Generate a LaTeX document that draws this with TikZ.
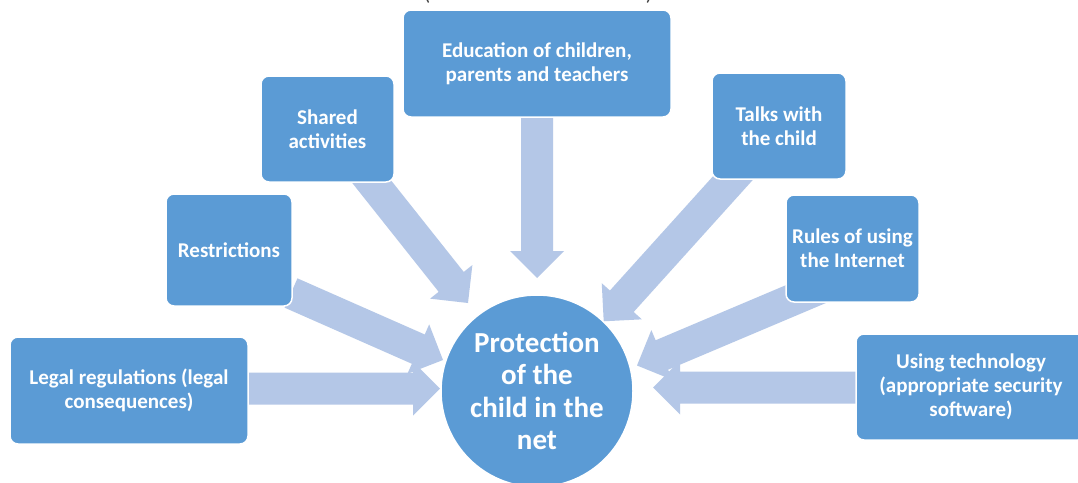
\documentclass[tikz,border=0pt]{standalone}
\usepackage{fontspec}
\setmainfont{Carlito}
\usetikzlibrary{calc,backgrounds}
\definecolor{boxblue}{HTML}{5B9BD5}
\definecolor{arrowblue}{HTML}{B4C7E7}
\newcommand\blockarrow[2]{%
  \coordinate (ba-b) at ($(#2)!27pt!(#1)$);
  \fill[arrowblue] ($(#1)!16pt!90:(#2)$) -- ($(ba-b)!16pt!90:(#2)$)
    -- ($(ba-b)!27pt!90:(#2)$) -- (#2) -- ($(ba-b)!27pt!-90:(#2)$)
    -- ($(ba-b)!16pt!-90:(#2)$) -- ($(#1)!16pt!-90:(#2)$) -- cycle;
}
\tikzset{
  topic/.style={rectangle, rounded corners=8pt, fill=boxblue, draw=white,
    line width=1.5pt, text=white, align=center, inner sep=2pt,
    font=\bfseries\fontsize{21}{24}\selectfont},
  hub/.style={circle, fill=boxblue, draw=white, line width=1.5pt,
    minimum size=192pt, inner sep=0pt, text=white, align=center,
    font=\bfseries\fontsize{29}{32.5}\selectfont},
  paren/.style={anchor=south, inner sep=0pt, text=black!75,
    font=\fontsize{21}{24}\selectfont}
}
\begin{document}
\begin{tikzpicture}[x=1pt,y=-1pt]
\useasboundingbox (0,0) rectangle (1078,482);

% partial text at the top edge
\node[paren] (lp) at (427,4) {(};
\node[paren] (rp) at (649,4) {)};

% hub
\node[hub] (hub) at (537,391) {Protection\\of the\\child in the\\net};

% topic boxes
\node[topic, minimum width=268pt, minimum height=107pt] (edu) at (537,63.5)
  {Education of children,\\parents and teachers};
\node[topic, minimum width=133pt, minimum height=106pt] (shared) at (327.5,129)
  {Shared\\activities};
\node[topic, minimum width=126pt, minimum height=112pt] (restr) at (229,250)
  {Restrictions};
\node[topic, minimum width=238pt, minimum height=107pt] (legal) at (129,390.5)
  {Legal regulations (legal\\consequences)};
\node[topic, minimum width=134pt, minimum height=106pt] (talks) at (779,126)
  {Talks with\\the child};
\node[topic, minimum width=133pt, minimum height=107pt] (rules) at (852.5,248.5)
  {Rules of using\\the Internet};
\node[topic, minimum width=230pt, minimum height=106pt] (tech) at (971,387)
  {Using technology\\(appropriate security\\software)};

% arrow end points
\coordinate (edu-s) at (537,115);      \coordinate (edu-t) at (537,278);
\coordinate (shared-s) at (360,167);   \coordinate (shared-t) at (468,303);
\coordinate (restr-s) at (291,293);    \coordinate (restr-t) at (443,360);
\coordinate (legal-s) at (245,388.5);  \coordinate (legal-t) at (440,388.5);
\coordinate (talks-s) at (742,168);    \coordinate (talks-t) at (603.7,321.3);
\coordinate (rules-s) at (825,286);    \coordinate (rules-t) at (637,365.5);
\coordinate (tech-s) at (860,387.5);   \coordinate (tech-t) at (653,387.5);

\begin{scope}[on background layer]
\fill[white] (0,0) rectangle (1078,482);
\blockarrow{edu-s}{edu-t}
\blockarrow{shared-s}{shared-t}
\blockarrow{restr-s}{restr-t}
\blockarrow{legal-s}{legal-t}
\blockarrow{talks-s}{talks-t}
\blockarrow{rules-s}{rules-t}
\blockarrow{tech-s}{tech-t}
\end{scope}
\end{tikzpicture}
\end{document}
